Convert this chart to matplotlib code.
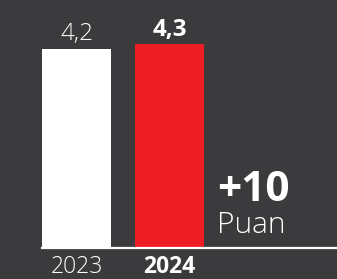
import matplotlib.pyplot as plt

years = ['2023', '2024']
values = [4.2, 4.3]
value_labels = ['4,2', '4,3']
bar_colors = ['#ffffff', '#ee1c25']
change_label = '+10'
unit_label = 'Puan'

bg = '#3b3b3d'
plt.rcParams['font.family'] = ['Open Sans', 'DejaVu Sans']

fig = plt.figure(figsize=(3.37, 2.79), dpi=100, facecolor=bg)
ax = fig.add_axes([0, 0, 1, 1])
ax.set_facecolor(bg)

x = range(len(years))
ax.bar(x, values, width=0.74, color=bar_colors, zorder=2)

# baseline
ax.axhline(0, xmin=0.125, xmax=1, color='white', lw=1.6, zorder=3)

for i, (v, lab) in enumerate(zip(values, value_labels)):
    bold = i == 1
    ax.text(i, v + 0.30, lab, ha='center', va='center', color='white',
            fontsize=17.5, fontweight='bold' if bold else 'light')
    ax.text(i, -0.40, years[i], ha='center', va='center', color='white',
            fontsize=16.5, fontweight='bold' if bold else 'light')

ax.text(1.51, 1.22, change_label, ha='left', va='center', color='white',
        fontsize=30.5, fontweight='bold')
ax.text(1.51, 0.47, unit_label, ha='left', va='center', color='white',
        fontsize=21.5, fontweight='light')

ax.set_xlim(-0.8226, 2.801)
ax.set_ylim(-0.653, 5.227)
ax.axis('off')

fig.savefig('out.png', dpi=100, facecolor=bg)
